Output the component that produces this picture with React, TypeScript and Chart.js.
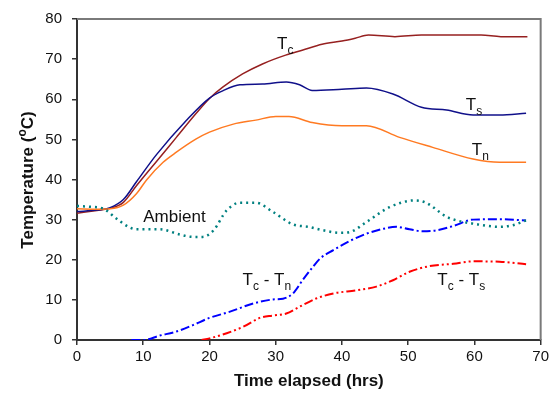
import React, { useEffect, useRef } from "react";
import { Chart, registerables } from "chart.js";
Chart.register(...registerables);

// ---- data ----
const tcHours = [0, 3, 5, 7, 9, 12.5, 15, 18, 20, 22, 25, 28, 31.5, 34, 37, 40, 42, 44, 48, 52, 56, 61, 64, 68];
const tcTemps = [31.6, 32.3, 32.8, 34.3, 38.5, 45.5, 50.5, 56.5, 60.2, 63, 66.3, 68.8, 71, 72.2, 73.7, 74.5, 75.2, 76, 75.6, 76, 76, 76, 75.6, 75.6];

const tsHours = [0, 3, 5, 7, 9, 12, 16.5, 20, 22, 24.6, 28, 31.6, 33.6, 35.5, 40, 43.7, 47.7, 52, 55.8, 59.8, 63.8, 67.8];
const tsTemps = [32, 32.4, 33, 35, 39.5, 46.2, 54.7, 60.3, 62.1, 63.6, 63.8, 64.3, 63.6, 62.2, 62.5, 62.8, 61.3, 58, 57.3, 56.1, 56.1, 56.5];

const tnHours = [0, 3, 5, 7, 9, 10.5, 13, 15, 18, 20, 23.6, 27, 30, 32, 35.5, 40, 43.7, 48.7, 53.7, 59.8, 63.8, 67.8];
const tnTemps = [32.7, 32.6, 32.7, 33.6, 36.5, 39.9, 44.3, 46.8, 50.1, 51.8, 53.8, 54.8, 55.7, 55.7, 54.2, 53.4, 53.4, 50.5, 48, 45.1, 44.3, 44.3];

const ambHours = [0, 2, 4, 6, 8, 9, 12.5, 15.5, 17.5, 19, 20.6, 22.6, 24.6, 27, 29.6, 32.6, 35, 37, 39.7, 41.2, 43.7, 47.2, 51, 52.7, 55.8, 57.3, 59.8, 63.8, 65.8, 67.8];
const ambTemps = [33.4, 33.2, 32.7, 30.2, 28, 27.6, 27.6, 26.3, 25.7, 25.7, 27.3, 32.3, 34.2, 34.2, 31.9, 28.8, 28.2, 27.4, 26.7, 26.9, 29.4, 33.1, 34.8, 34.2, 30.7, 29.8, 29, 28.2, 28.6, 29.8];

const dnHours = [8.2, 10, 12.5, 15, 17.5, 20, 23, 26.6, 29.6, 31.1, 32.6, 34.1, 35.6, 36.7, 38.7, 41.2, 43.7, 46.2, 48.2, 50.2, 52.2, 54.2, 56.8, 59.8, 63.8, 67.8];
const dnTemps = [0, 0, 1.1, 2.1, 3.7, 5.5, 7, 9.1, 10.1, 10.3, 11.6, 15, 18.2, 20.3, 22.4, 24.7, 26.5, 27.7, 28.2, 27.6, 27.1, 27.3, 28.4, 30, 30.1, 29.8];

const dsHours = [18.8, 20, 22.6, 25.1, 27.6, 29.6, 31.6, 33.6, 36.2, 38.7, 42.2, 45.2, 47.7, 50.2, 53.2, 56.8, 59.8, 63.8, 67.8];
const dsTemps = [0, 0.4, 1.7, 3.3, 5.5, 6.1, 6.6, 8.3, 10.4, 11.6, 12.4, 13.3, 14.9, 17, 18.4, 19, 19.6, 19.5, 18.9];

const xMin = 0, xMax = 70, xStep = 10;
const yMin = 0, yMax = 80, yStep = 10;

const xTitle = "Time elapsed (hrs)";
const yTitleParts = ["Temperature (", "o", "C)"];

// annotations: [main, sub, main, sub...], anchor (hours, temp) = left/baseline
const notes = [
  { parts: ["T", "c"], x: 30.2, y: 72.5 },
  { parts: ["T", "s"], x: 58.7, y: 57.4 },
  { parts: ["T", "n"], x: 59.6, y: 46.0 },
  { parts: ["Ambient"], x: 10.0, y: 29.3 },
  { parts: ["T", "c", " - T", "n"], x: 25.0, y: 13.7 },
  { parts: ["T", "c", " - T", "s"], x: 54.4, y: 13.7 },
];

const pts = (xs: number[], ys: number[]) => xs.map((x, i) => ({ x, y: ys[i] }));

const FONT = "'Liberation Sans', Arial, sans-serif";

const overlay = {
  id: "overlay",
  afterDraw(chart: any) {
    const { ctx, chartArea: a, scales } = chart;
    const xs = scales.x, ys = scales.y;
    ctx.save();
    // frame top/right
    ctx.strokeStyle = "#7a7a7a";
    ctx.lineWidth = 2;
    ctx.beginPath();
    ctx.moveTo(a.left, a.top);
    ctx.lineTo(a.right, a.top);
    ctx.lineTo(a.right, a.bottom);
    ctx.stroke();

    // annotations
    ctx.fillStyle = "#111";
    ctx.textBaseline = "alphabetic";
    ctx.textAlign = "left";
    for (const n of notes) {
      let px = xs.getPixelForValue(n.x);
      const py = ys.getPixelForValue(n.y);
      n.parts.forEach((p, i) => {
        const sub = i % 2 === 1;
        ctx.font = sub ? `12px ${FONT}` : `17px ${FONT}`;
        ctx.fillText(p, px, py + (sub ? 5 : 0));
        px += ctx.measureText(p).width;
      });
    }

    // x title
    ctx.font = `bold 17px ${FONT}`;
    ctx.textAlign = "center";
    ctx.fillText(xTitle, (a.left + a.right) / 2, 386);

    // y title with superscript
    ctx.translate(33, 180);
    ctx.rotate(-Math.PI / 2);
    const big = `bold 17px ${FONT}`;
    const small = `bold 12px ${FONT}`;
    ctx.textAlign = "left";
    ctx.font = big;
    const w0 = ctx.measureText(yTitleParts[0]).width;
    const w2 = ctx.measureText(yTitleParts[2]).width;
    ctx.font = small;
    const w1 = ctx.measureText(yTitleParts[1]).width;
    let tx = -(w0 + w1 + w2) / 2;
    ctx.font = big;
    ctx.fillText(yTitleParts[0], tx, 0);
    tx += w0;
    ctx.font = small;
    ctx.fillText(yTitleParts[1], tx, -7);
    tx += w1;
    ctx.font = big;
    ctx.fillText(yTitleParts[2], tx, 0);
    ctx.restore();
  },
};

export default function App() {
  const ref = useRef<HTMLCanvasElement | null>(null);
  useEffect(() => {
    document.body.style.margin = "0";
    const line = (data: any, color: string, width: number, dash: number[] = []) => ({
      data,
      borderColor: color,
      backgroundColor: color,
      borderWidth: width,
      borderDash: dash,
      pointRadius: 0,
      fill: false,
      tension: 0.4,
      cubicInterpolationMode: "monotone" as const,
    });
    const chart = new Chart(ref.current!, {
      type: "line",
      data: {
        datasets: [
          line(pts(ambHours, ambTemps), "#008080", 2.5, [2, 4]),
          line(pts(dsHours, dsTemps), "#ff0000", 2, [9, 3, 2, 3, 2, 3]),
          line(pts(dnHours, dnTemps), "#0000ff", 2, [9, 3, 2, 3]),
          line(pts(tnHours, tnTemps), "#ff7a22", 1.5),
          line(pts(tsHours, tsTemps), "#10108a", 1.5),
          line(pts(tcHours, tcTemps), "#962020", 1.5),
        ],
      },
      options: {
        responsive: false,
        animation: false,
        layout: { padding: { top: 18, right: 11, left: 0, bottom: 0 } },
        plugins: { legend: { display: false }, tooltip: { enabled: false } },
        scales: {
          x: {
            type: "linear",
            min: xMin,
            max: xMax,
            afterFit: (s: any) => { s.height = 66; },
            ticks: { stepSize: xStep, color: "#111", font: { size: 15, family: FONT }, padding: 3, maxRotation: 0 },
            grid: { drawOnChartArea: false, drawTicks: true, tickLength: 5, color: "#333", lineWidth: 1.5 },
            border: { display: true, color: "#333", width: 2 },
          },
          y: {
            type: "linear",
            min: yMin,
            max: yMax,
            afterFit: (s: any) => { s.width = 77; },
            ticks: { stepSize: yStep, color: "#111", font: { size: 15, family: FONT }, padding: 10 },
            grid: { drawOnChartArea: false, drawTicks: true, tickLength: 5, color: "#333", lineWidth: 1.5 },
            border: { display: true, color: "#333", width: 2 },
          },
        },
      },
      plugins: [overlay],
    });
    return () => chart.destroy();
  }, []);
  return (
    <div style={{ width: 552, height: 406 }}>
      <canvas ref={ref} width={552} height={406} />
    </div>
  );
}
